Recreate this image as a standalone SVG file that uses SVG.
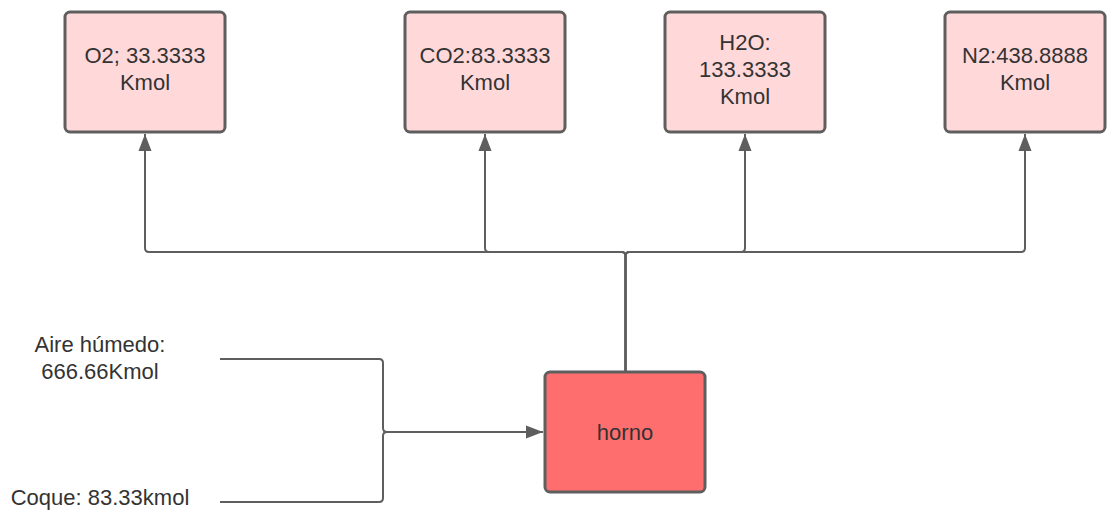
<svg xmlns="http://www.w3.org/2000/svg" width="1107" height="512" viewBox="0 0 1107 512">
  <style>
    .box { fill: #ffd8da; stroke: #5e5e5e; stroke-width: 3; }
    .hot { fill: #ff6e6e; stroke: #5e5e5e; stroke-width: 3; }
    .lbl { font-family: "Liberation Sans", Arial, sans-serif; font-size: 22px; fill: #333333; text-anchor: middle; }
    .con { fill: none; stroke: #5e5e5e; stroke-width: 2; }
  </style>
  <defs>
    <marker id="arr" markerUnits="userSpaceOnUse" markerWidth="18" markerHeight="14" refX="17" refY="7" orient="auto">
      <path d="M0,0.5 L17,7 L0,13.5 z" fill="#5e5e5e"/>
    </marker>
  </defs>
  <rect width="1107" height="512" fill="#ffffff"/>

  <g id="connectors">
    <path class="con" marker-end="url(#arr)" d="M625.5,372 V256 Q625.5,252 621.5,252 H149 Q145,252 145,248 V134"/>
    <path class="con" marker-end="url(#arr)" d="M625.5,372 V256 Q625.5,252 621.5,252 H489 Q485,252 485,248 V134"/>
    <path class="con" marker-end="url(#arr)" d="M625.5,372 V256 Q625.5,252 629.5,252 H741 Q745,252 745,248 V134"/>
    <path class="con" marker-end="url(#arr)" d="M625.5,372 V256 Q625.5,252 629.5,252 H1021 Q1025,252 1025,248 V134"/>
    <path class="con" marker-end="url(#arr)" d="M220,359 H379 Q383,359 383,363 V428 Q383,432 387,432 H543"/>
    <path class="con" d="M220,502 H379 Q383,502 383,498 V436 Q383,432 387,432"/>
  </g>

  <g id="o2">
    <rect class="box" x="65" y="12" width="160" height="120" rx="5"/>
    <text class="lbl" x="145" y="63">O2; 33.3333</text>
    <text class="lbl" x="145" y="90">Kmol</text>
  </g>
  <g id="co2">
    <rect class="box" x="405" y="12" width="160" height="120" rx="5"/>
    <text class="lbl" x="485" y="63">CO2:83.3333</text>
    <text class="lbl" x="485" y="90">Kmol</text>
  </g>
  <g id="h2o">
    <rect class="box" x="665" y="12" width="160" height="120" rx="5"/>
    <text class="lbl" x="745" y="50">H2O:</text>
    <text class="lbl" x="745" y="77">133.3333</text>
    <text class="lbl" x="745" y="104">Kmol</text>
  </g>
  <g id="n2">
    <rect class="box" x="945" y="12" width="160" height="120" rx="5"/>
    <text class="lbl" x="1025" y="63">N2:438.8888</text>
    <text class="lbl" x="1025" y="90">Kmol</text>
  </g>
  <g id="horno">
    <rect class="hot" x="545" y="372" width="160" height="120" rx="5"/>
    <text class="lbl" x="625" y="440">horno</text>
  </g>
  <g id="aire">
    <text class="lbl" x="100" y="352">Aire húmedo:</text>
    <text class="lbl" x="100" y="379">666.66Kmol</text>
  </g>
  <g id="coque">
    <text class="lbl" x="100" y="505">Coque: 83.33kmol</text>
  </g>
</svg>
